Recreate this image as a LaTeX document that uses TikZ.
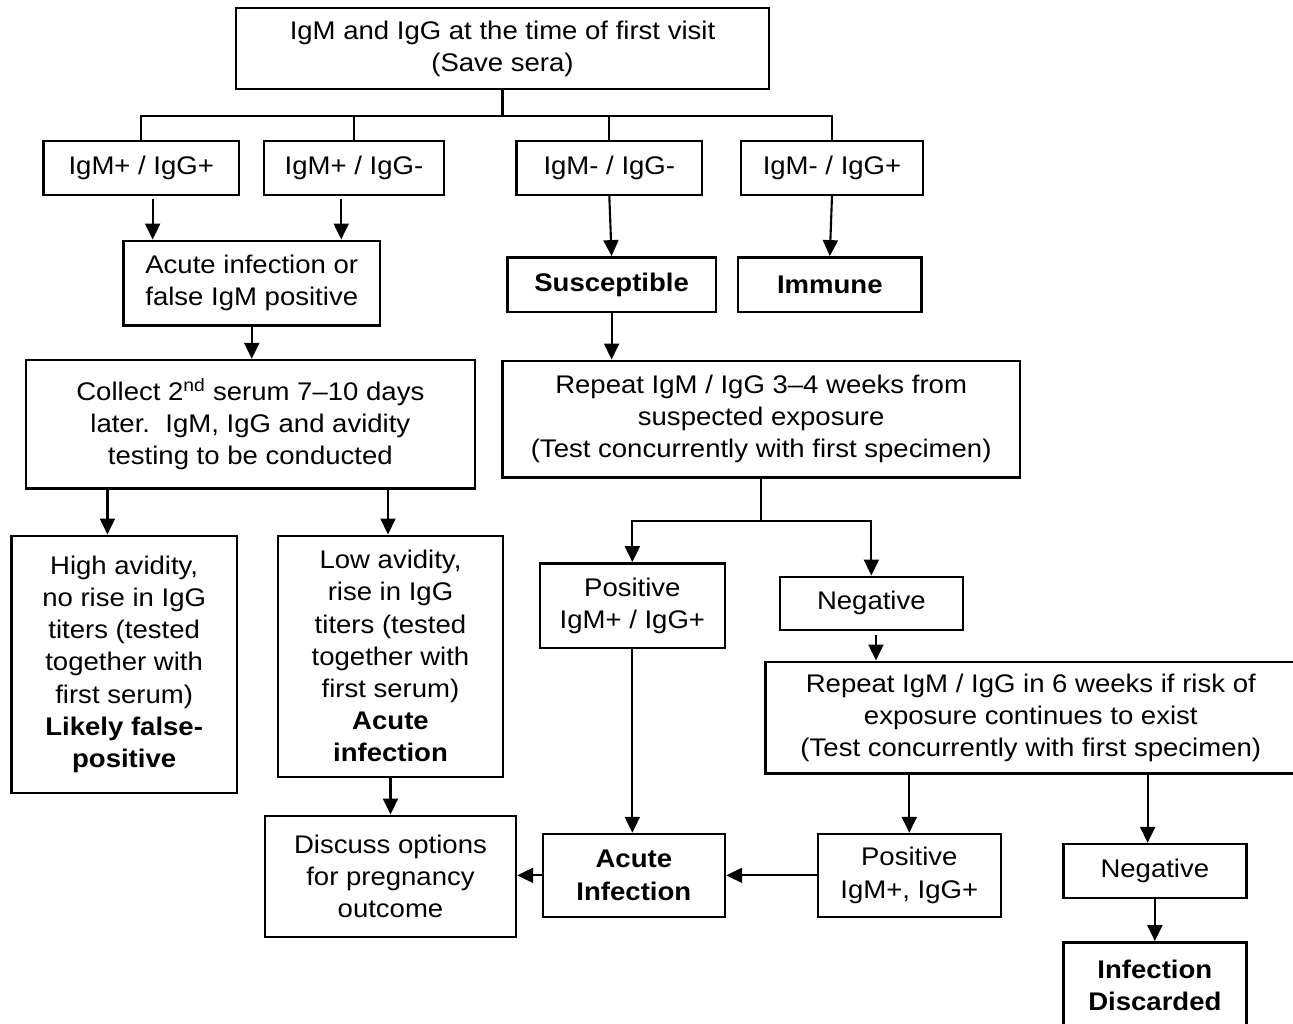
\documentclass[tikz,border=0pt]{standalone}
\usepackage{fontspec}
\setmainfont{Liberation Sans}[FakeStretch=1.08]
\usetikzlibrary{arrows.meta,calc}
\begin{document}
\begin{tikzpicture}[x=1pt,y=-1pt,
  box/.style={draw, line width=2.4pt, align=center, inner sep=0pt, font=\fontsize{25.5}{32.2}\selectfont},
  arr/.style={line width=2.1pt, -{Triangle[length=16pt,width=15pt]}},
  ln/.style={line width=2.1pt}]
\useasboundingbox (0,0) rectangle (1293,1023);
\fill[white] (0,0) rectangle (1293,1023);

\node[box, minimum width=533pt, minimum height=81pt] (top) at (502.5,48.5) {IgM and IgG at the time of first visit\\(Save sera)};
\node[box, minimum width=195.5pt, minimum height=54pt] (A1) at (141.25,167.7) {IgM+ / IgG+};
\node[box, minimum width=180pt, minimum height=54pt] (A2) at (354,167.7) {IgM+ / IgG-};
\node[box, minimum width=185.4pt, minimum height=54pt] (A3) at (609.3,167.7) {IgM- / IgG-};
\node[box, minimum width=182pt, minimum height=54pt] (A4) at (832,167.7) {IgM- / IgG+};
\node[box, minimum width=256.5pt, minimum height=84.6pt] (B) at (251.75,283) {Acute infection or\\false IgM positive};
\node[box, minimum width=449.3pt, minimum height=128.3pt] (C) at (250.35,424.15) {Collect 2\textsuperscript{nd} serum 7–10 days\\later.\ \ IgM, IgG and avidity\\testing to be conducted};
\node[box, minimum width=208.4pt, minimum height=54.4pt] (S) at (611.6,284.5) {\textbf{Susceptible}};
\node[box, minimum width=183.6pt, minimum height=54.4pt] (I) at (829.8,284.5) {\textbf{Immune}};
\node[box, minimum width=517.7pt, minimum height=116.6pt] (R1) at (761.15,419) {Repeat IgM / IgG 3–4 weeks from\\suspected exposure\\(Test concurrently with first specimen)};
\node[box, minimum width=225.1pt, minimum height=257pt] (D) at (124.15,664.2) {High avidity,\\no rise in IgG\\titers (tested\\together with\\first serum)\\\textbf{Likely false-}\\\textbf{positive}};
\node[box, minimum width=225pt, minimum height=241pt] (E) at (390.5,656.2) {Low avidity,\\rise in IgG\\titers (tested\\together with\\first serum)\\\textbf{Acute}\\\textbf{infection}};
\node[box, minimum width=251pt, minimum height=121pt] (F) at (390.5,876.2) {Discuss options\\for pregnancy\\outcome};
\node[box, minimum width=185.3pt, minimum height=84.4pt] (P1) at (632.35,605.5) {Positive\\IgM+ / IgG+};
\node[box, minimum width=182.9pt, minimum height=53.3pt] (N1) at (871.35,603.35) {Negative};
\node[box, minimum width=530.4pt, minimum height=111.8pt] (R2) at (1030.8,717.6) {Repeat IgM / IgG in 6 weeks if risk of\\exposure continues to exist\\(Test concurrently with first specimen)};
\node[box, minimum width=182.3pt, minimum height=82.7pt] (AI) at (633.85,875.35) {\textbf{Acute}\\\textbf{Infection}};
\node[box, minimum width=183pt, minimum height=82.7pt] (P2) at (909.3,875.35) {Positive\\IgM+, IgG+};
\node[box, minimum width=182.9pt, minimum height=54pt] (N2) at (1154.85,871) {Negative};
\node[box, minimum width=182.9pt, minimum height=85.4pt] (ID) at (1154.85,985) {\textbf{Infection}\\\textbf{Discarded}};

% bus from top
\coordinate (bus) at ($(top.south)+(0,26)$);
\draw[ln] (top.south) -- (bus);
\draw[ln] (A1.north) |- (bus) -| (A4.north);
\draw[ln] (A2.north) -- (A2.north |- bus);
\draw[ln] (A3.north) -- (A3.north |- bus);

\draw[arr] ($(A1.south)+(11.4,3.5)$) -- ($(A1.south |- B.north)+(11.4,0)$);
\draw[arr] ($(A2.south)+(-12.8,3.5)$) -- ($(A2.south |- B.north)+(-12.8,0)$);
\draw[arr] (B.south) -- (B.south |- C.north);
\draw[arr] ($(D.north |- C.south)+(-16.7,0)$) -- ($(D.north)+(-16.7,0)$);
\draw[arr] ($(E.north |- C.south)+(-2.5,0)$) -- ($(E.north)+(-2.5,0)$);
\draw[arr] (E.south) -- (F.north);
\draw[arr] (A3.south) -- (S.north);
\draw[arr] (A4.south) -- (I.north);
\draw[arr] (S.south) -- (S.south |- R1.north);

\coordinate (b2) at ($(R1.south)+(0,42.7)$);
\draw[ln] (R1.south) -- (b2);
\draw[arr] (b2) -| (P1.north);
\draw[arr] (b2) -| (N1.north);
\draw[arr] ($(N1.south)+(4.6,4)$) -- ($(N1.south |- R2.north)+(4.6,0)$);
\draw[arr] (P2.north |- R2.south) -- (P2.north);
\draw[arr] ($(N2.north |- R2.south)+(-7.2,0)$) -- ($(N2.north)+(-7.2,0)$);
\draw[arr] (N2.south) -- (ID.north);
\draw[arr] (P1.south) -- (P1.south |- AI.north);
\draw[arr] (P2.west) -- (AI.east);
\draw[arr] (AI.west) -- (AI.west -| F.east);
\end{tikzpicture}
\end{document}
